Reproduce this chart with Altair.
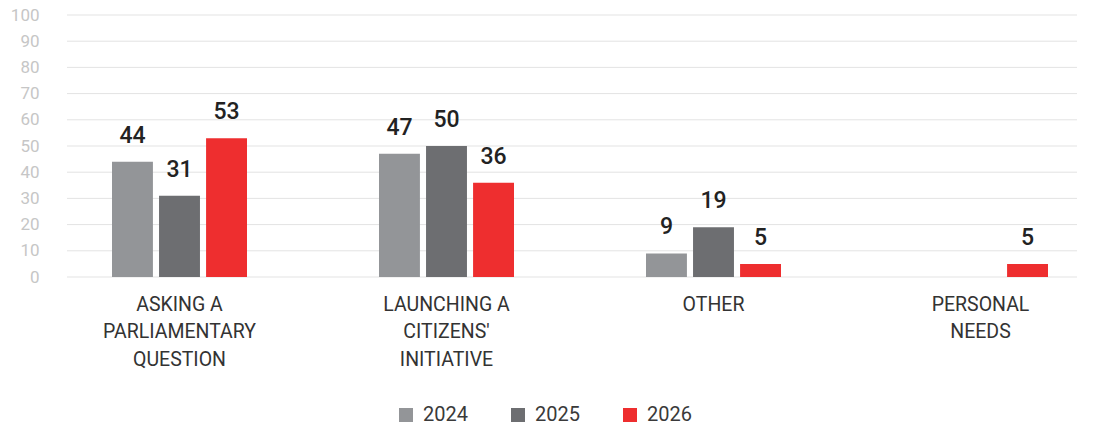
import altair as alt
import pandas as pd

categories = ["ASKING A|PARLIAMENTARY|QUESTION", "LAUNCHING A|CITIZENS'|INITIATIVE", "OTHER", "PERSONAL|NEEDS"]
years = ["2024", "2025", "2026"]
values_2024 = [44, 47, 9, None]
values_2025 = [31, 50, 19, None]
values_2026 = [53, 36, 5, 5]
colors = ["#939598", "#6d6e71", "#ee2e2f"]
y_ticks = list(range(0, 101, 10))

rows = []
for yr, vals in zip(years, [values_2024, values_2025, values_2026]):
    for c, v in zip(categories, vals):
        if v is not None:
            rows.append({"category": c, "year": yr, "value": v})
df = pd.DataFrame(rows)
grid_df = pd.DataFrame({"value": y_ticks})

FONT = "Roboto"

yscale = alt.Scale(domain=[0, 100], nice=False)
y_axis = alt.Axis(values=y_ticks, labelFontSize=17, labelColor="#c6c6c6",
                  labelFont=FONT, labelPadding=28, domain=False, ticks=False, grid=False)
y = alt.Y("value:Q", title=None, scale=yscale, axis=y_axis)

grid = alt.Chart(grid_df).mark_rule(color="#e3e3e3", strokeWidth=1).encode(
    y=y, x=alt.value(0), x2=alt.value(1010),
)

x = alt.X("category:N", sort=categories, title=None,
          scale=alt.Scale(range=[-21, 1047], paddingInner=0, paddingOuter=0),
          axis=alt.Axis(labelAngle=0, labelExpr="split(datum.label, '|')", labelLineHeight=27.5,
                        labelFontSize=19.5, labelColor="#333333", labelFont=FONT, labelPadding=18,
                        domain=False, ticks=False, grid=False, labelBaseline="top"))
xo = alt.XOffset("year:N", sort=years,
                 scale=alt.Scale(range=[66, 201], paddingInner=0.13, paddingOuter=0))

base = alt.Chart(df).encode(x=x, xOffset=xo, y=y)

bars = base.mark_bar().encode(
    color=alt.Color("year:N", sort=years,
                    scale=alt.Scale(domain=years, range=colors),
                    legend=alt.Legend(title=None, orient="none", legendX=329, legendY=390,
                                      direction="horizontal", symbolType="square", symbolSize=196,
                                      symbolStrokeWidth=0, labelFontSize=20, labelFont=FONT,
                                      labelColor="#3a3a3a", columnPadding=40, labelOffset=7))
)

labels = base.mark_text(baseline="alphabetic", dy=-19, fontSize=23, font=FONT,
                        fontWeight=500, color="#222222").encode(text=alt.Text("value:Q"))

chart = (grid + bars + labels).properties(
    width=1010, height=262,
    autosize=alt.AutoSizeParams(type="none"),
    padding={"left": 59, "top": 7, "right": 11, "bottom": 150},
).configure_view(stroke=None)

chart.save("out.html", embed_options={"renderer": "svg", "actions": False})
